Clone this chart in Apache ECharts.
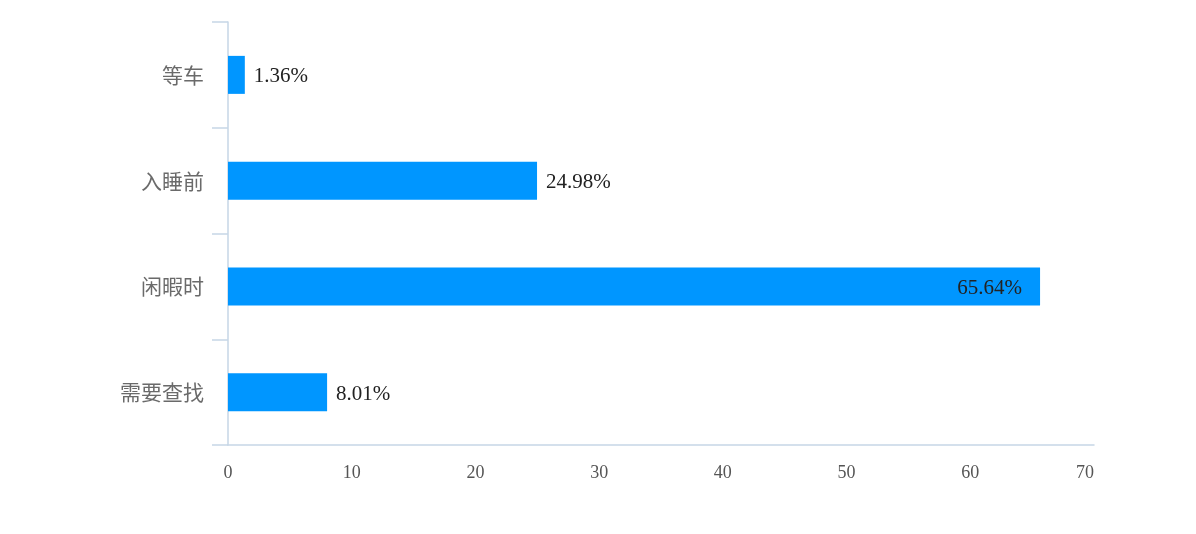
<!DOCTYPE html>
<html>
<head>
<meta charset="utf-8">
<script src="https://cdn.jsdelivr.net/npm/echarts@6/dist/echarts.min.js"></script>
<style>
  html, body { margin: 0; padding: 0; background: #fff; }
  #main { width: 1196px; height: 534px; }
</style>
</head>
<body>
<div id="main"></div>
<script>
// data, bottom to top
const categories = ['需要查找', '闲暇时', '入睡前', '等车'];
const values = [8.01, 65.64, 24.98, 1.36];
const xTicks = { min: 0, max: 70, interval: 10 };

const axisColor = '#c6d6e6';
const serif = '"Liberation Serif", "Times New Roman", serif';

// the long bar gets its label inside
const barData = values.map(function (v) {
    if (v > 50) {
        return { value: v, label: { position: 'insideRight', distance: 18 } };
    }
    return v;
});

const chart = echarts.init(document.getElementById('main'));
chart.setOption({
    animation: false,
    grid: { left: 228, right: 102, top: 22, bottom: 89, containLabel: false },
    xAxis: {
        type: 'value',
        min: xTicks.min,
        max: xTicks.max,
        interval: xTicks.interval,
        splitLine: { show: false },
        axisLine: { show: true, lineStyle: { color: axisColor, width: 1.5 } },
        axisTick: { show: false },
        axisLabel: {
            color: '#555',
            fontFamily: serif,
            fontSize: 18,
            margin: 19,
            alignMaxLabel: 'right'
        }
    },
    yAxis: {
        type: 'category',
        data: categories,
        axisLine: { show: true, lineStyle: { color: axisColor, width: 1.5 } },
        axisTick: { show: true, length: 16, lineStyle: { color: axisColor, width: 1.5 } },
        axisLabel: {
            color: '#6a6a6a',
            fontFamily: '"Noto Sans CJK SC", sans-serif',
            fontSize: 21,
            margin: 24
        }
    },
    series: [{
        type: 'bar',
        data: barData,
        barWidth: 38,
        itemStyle: { color: '#0096ff' },
        label: {
            show: true,
            position: 'right',
            distance: 9,
            offset: [0, 2],
            color: '#222',
            fontFamily: serif,
            fontSize: 21,
            formatter: function (p) { return p.value.toFixed(2) + '%'; }
        }
    }]
});
</script>
</body>
</html>
